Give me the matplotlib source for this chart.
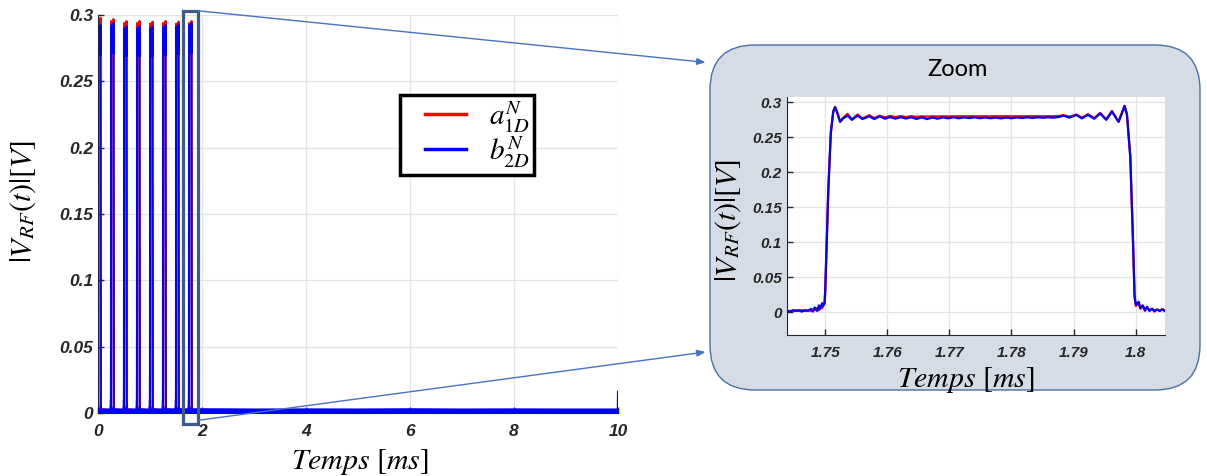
import numpy as np
import matplotlib
matplotlib.use("Agg")
import matplotlib.pyplot as plt
from matplotlib.patches import FancyBboxPatch, Rectangle, ConnectionPatch
from matplotlib.ticker import FuncFormatter

plt.rcParams['mathtext.fontset'] = 'stix'
plt.rcParams['font.family'] = ['Liberation Sans', 'DejaVu Sans']

## Data
# one pulse (the zoomed one, 1.75 ms -> 1.80 ms), time in ms, |V_RF| in V
pulse_t = [1.7438, 1.7443, 1.7448, 1.7453, 1.7458, 1.7462, 1.7467, 1.7472, 1.7477,
           1.7480, 1.7483, 1.7487, 1.7490, 1.7492, 1.7495, 1.7497, 1.7499,
           1.7500, 1.7505, 1.7509, 1.7513, 1.7516, 1.7520, 1.7524, 1.7529, 1.7536,
           1.7543, 1.7552, 1.7560, 1.7571, 1.7579, 1.7588,
           1.7596, 1.76045, 1.7613, 1.76215, 1.7630, 1.76385, 1.7647, 1.76555, 1.7664,
           1.76725, 1.7681, 1.76895, 1.7698, 1.77065, 1.7715, 1.77235, 1.7732, 1.77405,
           1.7749, 1.77575, 1.7766, 1.77745, 1.7783, 1.77915, 1.7800, 1.78085, 1.7817,
           1.78255, 1.7834, 1.78425, 1.7851, 1.78595, 1.7868, 1.78765,
           1.78839, 1.78935, 1.79044, 1.79135, 1.79232, 1.79334, 1.7943, 1.79527,
           1.79619, 1.79726, 1.79823, 1.79861, 1.79915, 1.79958, 1.79984,
           1.80006, 1.80023, 1.8005, 1.80077, 1.80115, 1.80152, 1.80185, 1.80222,
           1.80266, 1.80303, 1.80345, 1.80387, 1.8043, 1.80468]
pulse_a = [0.002, 0.002, 0.002, 0.003, 0.002, 0.003, 0.002, 0.003, 0.002,
           0.004, 0.003, 0.006, 0.003, 0.009, 0.006, 0.012, 0.013,
           0.030, 0.175, 0.256, 0.287, 0.2935, 0.284, 0.2725, 0.278, 0.2835,
           0.2755, 0.2825, 0.277, 0.2815, 0.2775, 0.281,
           0.2785, 0.2805, 0.2790, 0.2803, 0.2788, 0.2802, 0.2792, 0.2800, 0.2795,
           0.2800, 0.2797, 0.2801, 0.2798, 0.2800, 0.2800, 0.2801, 0.2800, 0.2801,
           0.2800, 0.2801, 0.2800, 0.2801, 0.2800, 0.2801, 0.2800, 0.2801, 0.2800,
           0.2801, 0.2800, 0.2801, 0.2800, 0.2802, 0.2800, 0.2805,
           0.2815, 0.2795, 0.2825, 0.2780, 0.2830, 0.2775, 0.2848, 0.2755,
           0.2875, 0.2725, 0.2950, 0.283, 0.222, 0.103, 0.022,
           0.009, 0.011, 0.013, 0.005, 0.009, 0.002, 0.007, 0.003,
           0.005, 0.001, 0.004, 0.002, 0.005, 0.003]
pulse_b = [0.002, 0.001, 0.003, 0.002, 0.003, 0.001, 0.003, 0.002, 0.005,
           0.001, 0.007, 0.002, 0.010, 0.005, 0.013, 0.009, 0.014,
           0.030, 0.175, 0.256, 0.287, 0.293, 0.283, 0.272, 0.277, 0.281,
           0.275, 0.281, 0.276, 0.280, 0.276, 0.280,
           0.2765, 0.2788, 0.2766, 0.2787, 0.2768, 0.2786, 0.2762, 0.2784, 0.2760,
           0.2782, 0.2765, 0.2785, 0.2770, 0.2786, 0.2772, 0.2784, 0.2774, 0.2785,
           0.2773, 0.2783, 0.2772, 0.2782, 0.2770, 0.2782, 0.2772, 0.2784, 0.2775,
           0.2785, 0.2776, 0.2786, 0.2778, 0.2787, 0.2780, 0.2790,
           0.281, 0.278, 0.282, 0.277, 0.282, 0.2765, 0.284, 0.275,
           0.2866, 0.272, 0.2947, 0.282, 0.222, 0.103, 0.022,
           0.0105, 0.012, 0.015, 0.006, 0.010, 0.003, 0.008, 0.002,
           0.005, 0.002, 0.004, 0.002, 0.004, 0.002]

# full record: pulse start times and the peak each trace reaches there
pulse_start = [0.0, 0.25, 0.5, 0.75, 1.0, 1.25, 1.5, 1.75]
peak_a = [0.298, 0.297, 0.2955, 0.2955, 0.295, 0.2955, 0.295, 0.2955]
peak_b = [0.2925, 0.294, 0.2915, 0.2915, 0.2915, 0.2925, 0.293, 0.294]

# noise floor between / after pulses
floor_t = [0, 1, 2, 3, 4, 5, 6, 7, 8, 9, 10]
floor_hi = [0.003, 0.003, 0.0032, 0.003, 0.0031, 0.003, 0.0032, 0.003, 0.0031, 0.003, 0.003]
end_t = [9.996, 10.0]
end_v = [0.002, 0.016]

RED = '#ff0000'
BLUE = '#0000ff'
TXT = '#262626'

# build main traces from the pulse shape
pt = np.array(pulse_t) - pulse_start[-1]
main_t, main_a, main_b = [], [], []
for t0, pa, pb in zip(pulse_start, peak_a, peak_b):
    main_t.extend(pt + t0)
    main_a.extend(np.array(pulse_a) * pa / max(pulse_a))
    main_b.extend(np.array(pulse_b) * pb / max(pulse_b))

fig = plt.figure(figsize=(12.07, 4.76), dpi=100)

def style_ticks(ax, size):
    ax.tick_params(direction='in', length=4, width=1, colors=TXT, labelsize=size)
    for lbl in ax.get_xticklabels() + ax.get_yticklabels():
        lbl.set_fontweight('bold')
        lbl.set_fontstyle('italic')
    for s in ['top', 'right']:
        ax.spines[s].set_visible(False)
    for s in ['left', 'bottom']:
        ax.spines[s].set_color(TXT)
    ax.grid(True, color='#e3e3e3', linewidth=0.9)
    ax.set_axisbelow(True)

fmt = FuncFormatter(lambda v, p: '%g' % round(v, 4))
LABEL_SIZE = 21.5

## main axes
ax = fig.add_axes([0.0812, 0.1324, 0.4308, 0.836])
ax.plot(main_t, main_a, color=RED, lw=1.5, label=r'$a_{1D}^{N}$')
ax.plot(main_t, main_b, color=BLUE, lw=1.5, label=r'$b_{2D}^{N}$')
ax.fill_between(floor_t, 0, floor_hi, color=BLUE, linewidth=1.5, zorder=3)
ax.plot(end_t, end_v, color=BLUE, lw=1.5, zorder=3)
ax.set_xlim(0, 10)
ax.set_ylim(0, 0.3)
ax.set_xticks(np.arange(0, 11, 2))
ax.set_yticks(np.arange(0, 0.31, 0.05))
ax.xaxis.set_major_formatter(fmt)
ax.yaxis.set_major_formatter(fmt)
style_ticks(ax, 12.5)
ax.tick_params(axis='x', pad=8)
ax.set_xlabel(r'$Temps\ [ms]$', fontsize=LABEL_SIZE)
ax.set_ylabel(r'$|V_{RF}(t)|[V]$', fontsize=LABEL_SIZE)
ax.xaxis.set_label_coords(0.504, -0.085)
ax.yaxis.set_label_coords(-0.115, 0.53)

leg = ax.legend(loc='upper left', bbox_to_anchor=(0.581, 0.799), fontsize=21,
                fancybox=False, edgecolor='black', framealpha=1,
                handlelength=2.1, handletextpad=0.8, borderpad=0.15,
                labelspacing=0.0, borderaxespad=0, handleheight=1.0)
leg.get_frame().set_linewidth(2.5)
# legend lines start a bit in from the frame, as in the original
for h in leg.get_lines():
    h.set_linewidth(2.5)
    xd = np.asarray(h.get_xdata(), dtype=float)
    start = xd[0] + 0.33 * (xd[-1] - xd[0])
    h.set_xdata(np.linspace(start, xd[-1], len(xd)))

# highlighted region around the last pulse
ax.add_patch(Rectangle((1.64, -0.0083), 0.29, 0.3115, fill=False,
                       edgecolor='#3c5a8c', lw=2.3, clip_on=False, zorder=6))

## zoom panel
box = FancyBboxPatch((7.10, 0.86), 4.90, 3.45,
                     boxstyle='round,pad=0,rounding_size=0.45',
                     transform=fig.dpi_scale_trans, facecolor='#d6dce5',
                     edgecolor='#4a6fa5', lw=1.0, zorder=-1)
fig.add_artist(box)
fig.text(958 / 1207, 0.855, 'Zoom', fontsize=17, family='Lato',
         ha='center', va='center', color='black')

axz = fig.add_axes([0.6518, 0.2962, 0.3132, 0.5007])
axz.plot(pulse_t, pulse_a, color=RED, lw=1.6)
axz.plot(pulse_t, pulse_b, color=BLUE, lw=1.6)
axz.set_xlim(1.7438, 1.8047)
axz.set_ylim(-0.0324, 0.308)
axz.set_xticks([1.75, 1.76, 1.77, 1.78, 1.79, 1.8])
axz.set_yticks(np.arange(0, 0.31, 0.05))
axz.xaxis.set_major_formatter(fmt)
axz.yaxis.set_major_formatter(fmt)
style_ticks(axz, 11)
axz.tick_params(axis='x', pad=8)
axz.set_xlabel(r'$Temps\ [ms]$', fontsize=LABEL_SIZE)
axz.set_ylabel(r'$|V_{RF}(t)|[V]$', fontsize=LABEL_SIZE)
axz.xaxis.set_label_coords(0.475, -0.125)
axz.yaxis.set_label_coords(-0.116, 0.48)

# connector arrows from the highlight to the zoom panel
for ya, yb in [(0.3032, 0.869), (-0.0055, 0.2605)]:
    con = ConnectionPatch(xyA=(1.93, ya), coordsA=ax.transData,
                          xyB=(0.5845, yb), coordsB=fig.transFigure,
                          arrowstyle='-|>,head_length=0.5,head_width=0.2',
                          color='#4472c4', lw=1.0, zorder=7)
    fig.add_artist(con)

fig.savefig('out.png', dpi=100)
